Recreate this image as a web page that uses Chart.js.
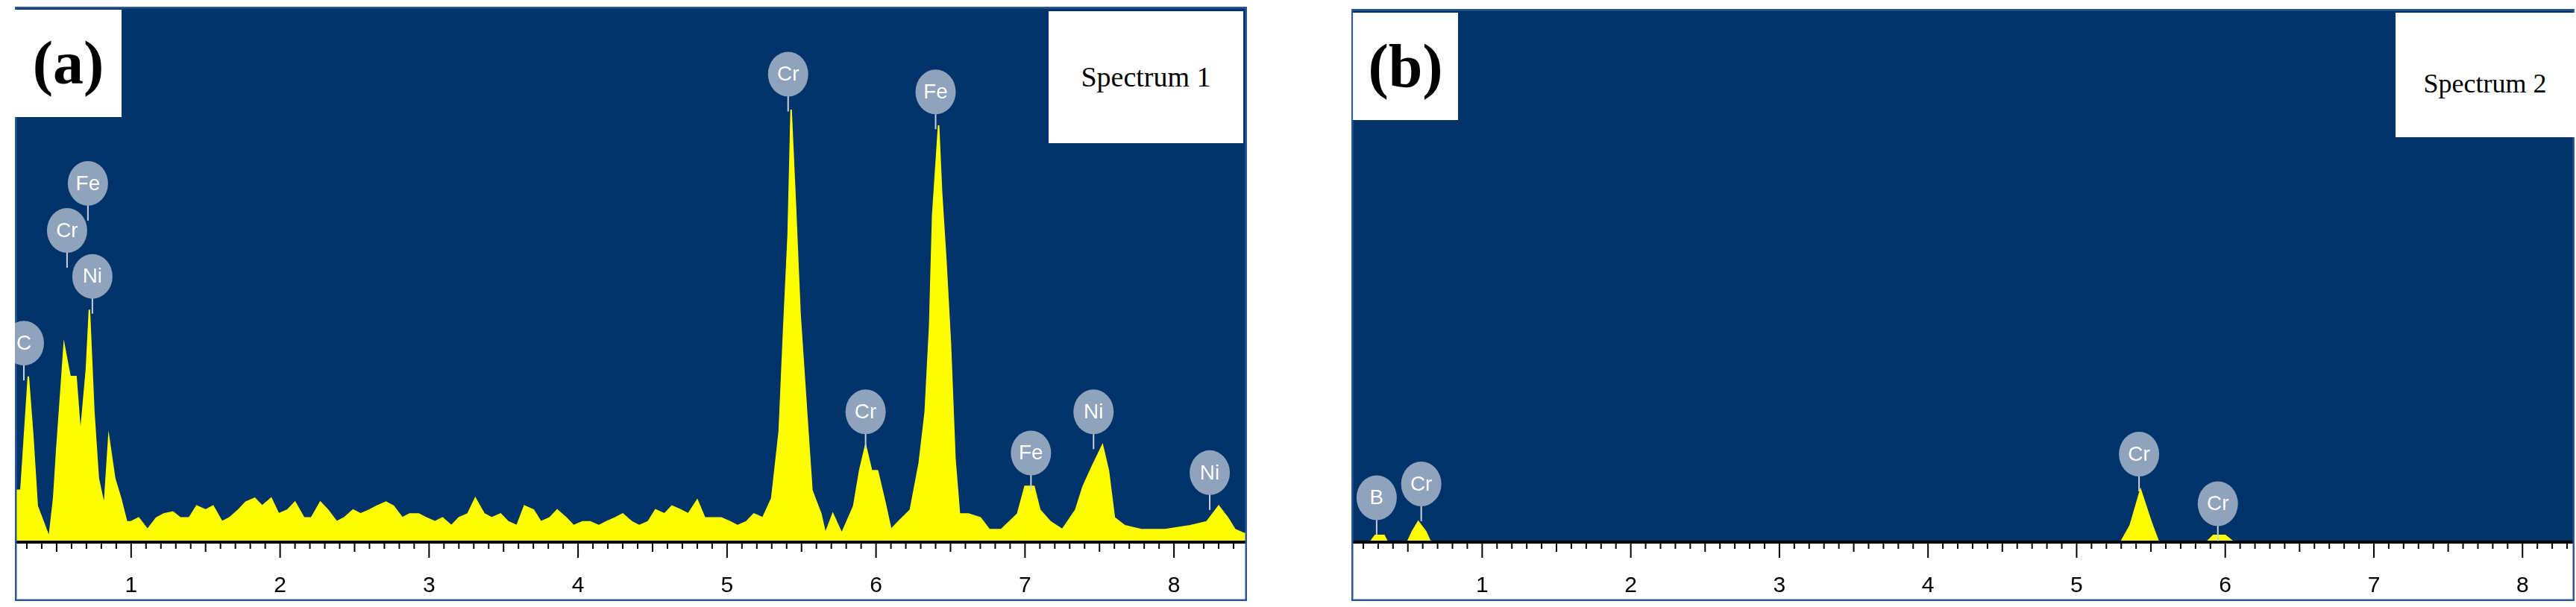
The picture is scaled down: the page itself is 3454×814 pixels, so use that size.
<!DOCTYPE html>
<html>
<head>
<meta charset="utf-8">
<script src="https://cdn.jsdelivr.net/npm/chart.js@4.4.1/dist/chart.umd.min.js"></script>
<style>
  body { margin: 0; background: #fff; width: 3454px; height: 814px; position: relative; overflow: hidden; }
  .panel { position: absolute; }
  .box { position: absolute; background: #fff; font-family: "Liberation Serif", serif; color: #000; }
</style>
</head>
<body>
<div class="panel" style="left:20px;top:9px;width:1652px;height:797px"><canvas id="chartA"></canvas></div>
<div class="panel" style="left:1812px;top:12px;width:1640px;height:794px"><canvas id="chartB"></canvas></div>

<div class="box" style="left:20px;top:13px;width:143px;height:144px;font-size:82px;font-weight:bold;line-height:144px;text-align:center">(a)</div>
<div class="box" style="left:1406px;top:15px;width:261px;height:177px;font-size:38px;line-height:177px;text-align:center">Spectrum 1</div>
<div class="box" style="left:1814px;top:17px;width:141px;height:144px;font-size:82px;font-weight:bold;line-height:144px;text-align:center">(b)</div>
<div class="box" style="left:3212px;top:17px;width:240px;height:167px;font-size:36px;line-height:190px;text-align:center">Spectrum 2</div>

<script>
// spectrum (a): energy (keV) and counts (arbitrary, full scale = 1362)
var energyA = [0.22, 0.23, 0.26, 0.31, 0.34, 0.37, 0.42, 0.45, 0.48, 0.50, 0.53, 0.55, 0.59, 0.63, 0.66, 0.70, 0.72, 0.75, 0.78, 0.82, 0.85, 0.89, 0.93, 0.97,
  1.00, 1.05, 1.11, 1.17, 1.22, 1.28, 1.33, 1.39, 1.44, 1.50, 1.55, 1.61, 1.66, 1.72, 1.77, 1.83, 1.88, 1.94, 1.99,
  2.05, 2.10, 2.16, 2.21, 2.27, 2.32, 2.38, 2.43, 2.49, 2.54, 2.60, 2.65, 2.71, 2.76, 2.82, 2.87, 2.93, 2.98,
  3.04, 3.09, 3.15, 3.20, 3.26, 3.31, 3.37, 3.42, 3.48, 3.53, 3.59, 3.64, 3.70, 3.75, 3.81, 3.86, 3.92, 3.97,
  4.03, 4.08, 4.14, 4.19, 4.25, 4.30, 4.36, 4.41, 4.47, 4.52, 4.58, 4.63, 4.69, 4.74, 4.80, 4.85, 4.91, 4.96,
  5.02, 5.07, 5.13, 5.18, 5.24, 5.30, 5.35, 5.38, 5.41, 5.43, 5.46, 5.49, 5.52, 5.55, 5.57, 5.63, 5.66, 5.71, 5.77,
  5.85, 5.89, 5.93, 5.97, 6.01, 6.06, 6.10, 6.15, 6.23, 6.29, 6.33, 6.36, 6.38, 6.42, 6.44, 6.47, 6.50, 6.53, 6.56,
  6.62, 6.70, 6.76, 6.84, 6.95, 7.00, 7.06, 7.10, 7.17, 7.25, 7.34, 7.39, 7.45, 7.52, 7.56, 7.60, 7.67, 7.78,
  7.94, 8.11, 8.22, 8.30, 8.36, 8.41, 8.47, 8.49];
var countsA = [130, 130, 130, 420, 270, 90, 40, 10, 110, 230, 390, 500, 420, 420, 270, 440, 590, 330, 160, 90, 265, 160, 110, 50,
  50, 60, 30, 60, 70, 75, 60, 60, 90, 80, 90, 50, 60, 80, 100, 110, 90, 110, 70,
  80, 100, 60, 60, 100, 80, 50, 60, 80, 70, 80, 90, 100, 90, 60, 70, 70, 60,
  50, 60, 40, 60, 70, 110, 70, 60, 70, 50, 40, 90, 80, 50, 60, 80, 60, 40,
  50, 50, 40, 50, 60, 70, 50, 40, 50, 80, 70, 90, 80, 70, 105, 60, 60, 60,
  50, 40, 50, 70, 60, 110, 280, 540, 780, 1100, 850, 580, 410, 240, 130, 70, 20, 70, 20,
  90, 180, 245, 180, 180, 100, 30, 50, 80, 200, 330, 550, 830, 1060, 890, 710, 500, 210, 70,
  70, 60, 30, 30, 70, 140, 140, 80, 50, 30, 80, 140, 190, 245, 180, 60, 40, 30,
  30, 40, 50, 90, 60, 30, 20, 20];
var peaksA = [
  { el: 'C', e: 0.28, h: 505 }, { el: 'Cr', e: 0.57, h: 792 }, { el: 'Fe', e: 0.71, h: 912 },
  { el: 'Ni', e: 0.74, h: 675 }, { el: 'Cr', e: 5.41, h: 1190 }, { el: 'Fe', e: 6.40, h: 1145 },
  { el: 'Cr', e: 5.93, h: 330 }, { el: 'Fe', e: 7.04, h: 225 }, { el: 'Ni', e: 7.46, h: 330 },
  { el: 'Ni', e: 8.24, h: 175 }];

// spectrum (b)
var energyB = [0.12, 0.25, 0.28, 0.34, 0.36, 0.50, 0.53, 0.57, 0.62, 0.65, 5.30, 5.36, 5.43, 5.50, 5.55, 5.88, 5.92, 6.00, 6.05, 8.35];
var countsB = [0, 0, 15, 15, 0, 0, 25, 50, 25, 0, 0, 40, 130, 50, 0, 0, 15, 15, 0, 0];
var peaksB = [
  { el: 'B', e: 0.29, h: 110 }, { el: 'Cr', e: 0.59, h: 145 },
  { el: 'Cr', e: 5.42, h: 220 }, { el: 'Cr', e: 5.95, h: 95 }];

var tickLabels = ['1', '2', '3', '4', '5', '6', '7', '8'];

var edsPlugin = {
  id: 'eds',
  beforeDraw: function (chart) {
    var ctx = chart.ctx, a = chart.chartArea;
    ctx.save();
    ctx.fillStyle = '#01336b';
    ctx.fillRect(a.left, a.top, a.right - a.left, a.bottom - a.top);
    ctx.restore();
  },
  afterDatasetsDraw: function (chart, args, opts) {
    var ctx = chart.ctx, a = chart.chartArea, x = chart.scales.x, y = chart.scales.y;
    ctx.save();
    // baseline and ticks
    ctx.fillStyle = '#000';
    ctx.fillRect(a.left, a.bottom - 1, a.right - a.left, 4);
    ctx.strokeStyle = '#000';
    ctx.lineWidth = 2;
    for (var i = 0; i <= 90; i++) {
      var v = i / 10;
      if (v < x.min || v > x.max) continue;
      var px = x.getPixelForValue(v);
      var len = (i % 10 === 0) ? 22 : (i % 5 === 0 ? 14 : 10);
      ctx.beginPath();
      ctx.moveTo(px, a.bottom);
      ctx.lineTo(px, a.bottom + len);
      ctx.stroke();
    }
    // frame
    ctx.strokeStyle = '#2a5896';
    ctx.lineWidth = 3;
    ctx.strokeRect(a.left + 1, a.top + 1, a.right - a.left - 2, chart.height - a.top - 2);
    // element markers
    opts.peaks.forEach(function (p) {
      var cx = x.getPixelForValue(p.e), cy = y.getPixelForValue(p.h);
      ctx.strokeStyle = '#c8d2de';
      ctx.lineWidth = 2;
      ctx.beginPath();
      ctx.moveTo(cx, cy);
      ctx.lineTo(cx, cy + 50);
      ctx.stroke();
      ctx.fillStyle = '#8fa3bc';
      ctx.beginPath();
      ctx.ellipse(cx, cy, 27, 30, 0, 0, Math.PI * 2);
      ctx.fill();
      ctx.fillStyle = '#ffffff';
      ctx.font = '28px "Liberation Sans", sans-serif';
      ctx.textAlign = 'center';
      ctx.textBaseline = 'middle';
      ctx.fillText(p.el, cx, cy + 1);
    });
    ctx.restore();
  }
};

function makeChart(id, energy, counts, peaks, xmin, xmax, ymax) {
  var pts = energy.map(function (e, i) { return { x: e, y: counts[i] }; });
  return new Chart(document.getElementById(id), {
    type: 'line',
    data: { datasets: [{ data: pts, borderColor: '#ffff00', backgroundColor: '#ffff00', borderWidth: 2, fill: 'origin', pointRadius: 0, tension: 0 }] },
    options: {
      responsive: true, maintainAspectRatio: false, animation: false,
      layout: { padding: 0 },
      plugins: { legend: { display: false }, tooltip: { enabled: false }, eds: { peaks: peaks } },
      scales: {
        x: {
          type: 'linear', min: xmin, max: xmax,
          grid: { display: false }, border: { display: false },
          afterFit: function (s) { s.height = 80; },
          afterBuildTicks: function (s) { s.ticks = tickLabels.map(function (t) { return { value: +t }; }); },
          ticks: { padding: 34, color: '#000', font: { size: 30, family: '"Liberation Sans Narrow", "Liberation Sans", sans-serif' }, maxRotation: 0,
            callback: function (v) { return String(v); } }
        },
        y: { display: false, min: 0, max: ymax }
      }
    },
    plugins: [edsPlugin]
  });
}

makeChart('chartA', energyA, countsA, peaksA, 0.22, 8.49, 1362);
makeChart('chartB', energyB, countsB, peaksB, 0.12, 8.35, 1343);
</script>
</body>
</html>
